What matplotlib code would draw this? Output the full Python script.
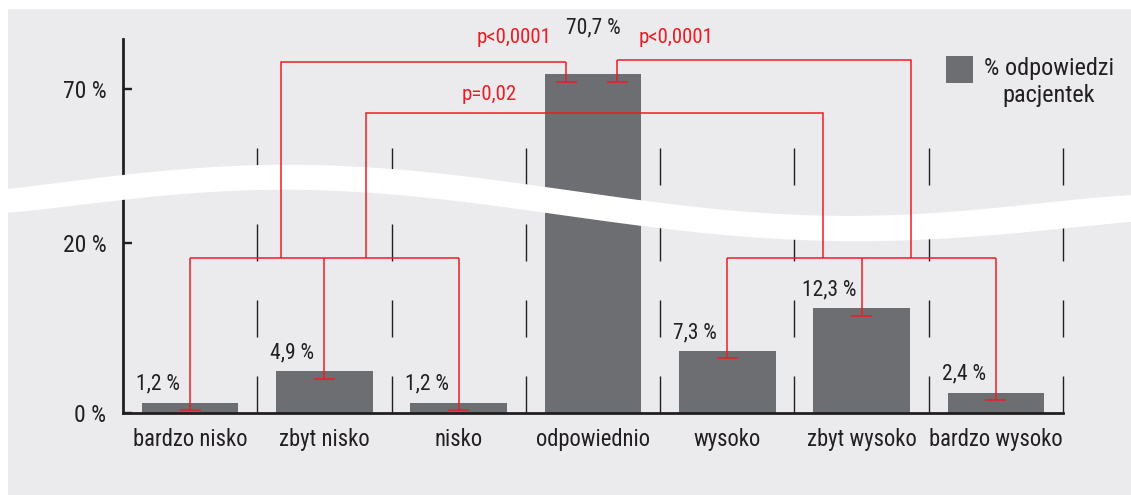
import numpy as np
import matplotlib
matplotlib.use("Agg")
import matplotlib.pyplot as plt
from matplotlib import font_manager
from matplotlib.patches import Rectangle, Polygon

# ---- data -------------------------------------------------------------
categories = ["bardzo nisko", "zbyt nisko", "nisko", "odpowiednio",
              "wysoko", "zbyt wysoko", "bardzo wysoko"]
percent = [1.2, 4.9, 1.2, 70.7, 7.3, 12.3, 2.4]
y_ticks = [0, 20, 70]
y_tick_labels = ["0 %", "20 %", "70 %"]
legend_label = "% odpowiedzi\npacjentek"
p_labels = ["p<0,0001", "p<0,0001", "p=0,02"]

# ---- canvas -----------------------------------------------------------
W, H, DPI = 1131, 495, 100
PX = 72.0 / DPI  # points per pixel

INK = "#231f20"
BAR = "#6d6e71"
PANEL = "#ebebed"
RED = "#ed1c24"

names = {f.name for f in font_manager.fontManager.ttflist}
family = "DejaVu Sans"
for cand in ["Liberation Sans Narrow", "Roboto Condensed", "Open Sans Condensed",
             "Noto Sans Condensed", "Liberation Sans"]:
    if cand in names:
        family = cand
        break
plt.rcParams["font.family"] = [family, "DejaVu Sans"]
plt.rcParams["lines.scale_dashes"] = False

fig = plt.figure(figsize=(W / DPI, H / DPI), dpi=DPI)
fig.patch.set_facecolor("white")
fig.add_artist(Rectangle((8 / W, 0), 1 - 8 / W, 1 - 9 / H, transform=fig.transFigure,
                         facecolor=PANEL, edgecolor="none", zorder=-1))

ax = fig.add_axes([123 / W, 1 - 413 / H, (1063 - 123) / W, (413 - 39) / H])
ax.set_facecolor("none")

# broken value axis: linear below the gap, stretched above it
seg_v = [-100.0, 0.0, 26.0, 65.75, 200.0]
seg_u = [-850.0, 0.0, 221.0, 233.0, 233.0 + (200.0 - 65.75) * 21.4]
ax.set_yscale("function", functions=(lambda v: np.interp(v, seg_v, seg_u),
                                     lambda u: np.interp(u, seg_u, seg_v)))
ax.set_xlim(0, 7)
ax.set_ylim(0, 72.34)

x = np.arange(len(categories)) + 0.5
ax.bar(x, percent, width=0.72, color=BAR, zorder=2)

# value labels
top = max(percent)
for xi, v in zip(x, percent):
    txt = f"{v:.1f}".replace(".", ",") + " %"
    dx, dy = (0, 41) if v == top else (-32, 13)
    ax.annotate(txt, (xi, v), xytext=(dx * PX, dy * PX), textcoords="offset points",
                ha="center", va="baseline", fontsize=15.5, color=INK, zorder=6)

# dashed category separators
for b in range(1, len(categories) + 1):
    ax.axvline(b, 0, (413 - 147) / 374, color=INK, lw=1.0, clip_on=False,
               linestyle=(0, (37 * PX, 39 * PX)), zorder=1.5)

# axes styling
for s in ("top", "right"):
    ax.spines[s].set_visible(False)
for s in ("left", "bottom"):
    ax.spines[s].set_linewidth(2.0)
    ax.spines[s].set_color(INK)
ax.set_yticks(y_ticks)
ax.set_yticklabels(y_tick_labels)
ax.set_xticks(x)
ax.set_xticklabels(categories)
ax.tick_params(axis="y", direction="in", length=9 * PX, width=2.4 * PX, color=INK,
               labelcolor=INK, labelsize=17, pad=12)
ax.tick_params(axis="x", length=0, labelcolor=INK, labelsize=16.3, pad=10.8)

# white wavy break band across the whole panel
bx = np.array([0, 8, 123, 250, 300, 370, 470, 545, 640, 750, 850, 917, 1000, 1131], float)
btop = np.array([190, 189, 174, 167, 165.3, 166.7, 175, 187.7, 201.7, 211.7, 215, 214, 208, 195])
bbot = np.array([213.5, 212.7, 199, 191.7, 190, 192.7, 200, 214, 227, 237, 240, 240, 235, 221.7])
xs = np.linspace(0, W, 400)
ptop = np.polyval(np.polyfit(bx / W, btop, 6), xs / W)
pbot = np.polyval(np.polyfit(bx / W, bbot, 6), xs / W)
band = np.vstack([np.column_stack([xs / W, 1 - ptop / H]),
                  np.column_stack([xs[::-1] / W, 1 - pbot[::-1] / H])])
ax.add_patch(Polygon(band, closed=True, transform=fig.transFigure, facecolor="white",
                     edgecolor="none", clip_on=False, zorder=3))

# significance brackets
lw_red = 1.1
cap_half = 0.078


def cap_level(xi, v, depth_px=7.5):
    xd, yd = ax.transData.transform((xi, v))
    return ax.transData.inverted().transform((xd, yd - depth_px))[1]


def red(xs_, ys_):
    ax.plot(xs_, ys_, color=RED, lw=lw_red, zorder=4, solid_capstyle="butt",
            solid_joinstyle="miter", clip_on=False)


def drop(xi, y_from, v):
    c = cap_level(xi, v)
    red([xi, xi], [y_from, c])
    red([xi - cap_half, xi + cap_half], [c, c])


group_y = 18.2
for grp in ([0, 1, 2], [4, 5, 6]):
    red([x[grp[0]], x[grp[-1]]], [group_y, group_y])
    for i in grp:
        drop(x[i], group_y, percent[i])

mid = 3
left_top, right_top, mid_top = 71.26, 71.36, 68.88
lx_join, mx_join_l, mx_join_r, rx_join = 1.176, 1.809, 5.212, 5.867
od_l, od_r = x[mid] - 0.2, x[mid] + 0.18

red([lx_join, lx_join, od_l], [group_y, left_top, left_top])
drop(od_l, left_top, percent[mid])
red([rx_join, rx_join, od_r], [group_y, right_top, right_top])
drop(od_r, right_top, percent[mid])
red([mx_join_l, mx_join_l, mx_join_r, mx_join_r], [group_y, mid_top, mid_top, group_y])

ax.annotate(p_labels[0], (od_l, left_top), xytext=(-15 * PX, 19 * PX),
            textcoords="offset points", ha="right", va="baseline", fontsize=15,
            color=RED, zorder=6)
ax.annotate(p_labels[1], (od_r, right_top), xytext=(21 * PX, 17 * PX),
            textcoords="offset points", ha="left", va="baseline", fontsize=15,
            color=RED, zorder=6)
ax.annotate(p_labels[2], (2.73, mid_top), xytext=(0, 13 * PX),
            textcoords="offset points", ha="center", va="baseline", fontsize=15,
            color=RED, zorder=6)

# legend
fig.add_artist(Rectangle((946 / W, 1 - 83 / H), 27 / W, 27 / H, transform=fig.transFigure,
                         facecolor=BAR, edgecolor="none", zorder=5))
fig.text(1049 / W, 1 - 57 / H, legend_label, ha="center", va="top",
         multialignment="center", fontsize=17.5, linespacing=1.2, color=INK)

fig.savefig("out.png", dpi=DPI, facecolor="white")
